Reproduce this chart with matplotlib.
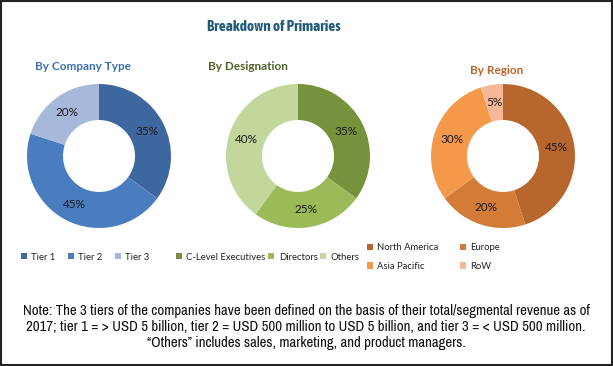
import matplotlib
matplotlib.use("Agg")
import matplotlib.pyplot as plt
from matplotlib.patches import Rectangle

# data
company_labels = ["Tier 1", "Tier 2", "Tier 3"]
company_values = [35, 45, 20]
company_colors = ["#3E679F", "#4A7DC0", "#A6B9DA"]

designation_labels = ["C-Level Executives", "Directors", "Others"]
designation_values = [35, 25, 40]
designation_colors = ["#76923C", "#9BBB59", "#C3D69B"]

region_labels = ["North America", "Europe", "Asia Pacific", "RoW"]
region_values = [45, 20, 30, 5]
region_colors = ["#B7672D", "#D37C38", "#F4994A", "#F6B797"]

W, H = 613, 366
fig = plt.figure(figsize=(W / 100, H / 100), dpi=100)
fig.patch.set_facecolor("white")

narrow = ["Archivo Narrow", "DejaVu Sans"]
title_font = ["Asap Condensed", "DejaVu Sans"]
body = ["Lato", "DejaVu Sans"]


def donut(cx, cy, r, values, colors):
    ax = fig.add_axes([(cx - r) / W, (H - cy - r) / H, 2 * r / W, 2 * r / H])
    wedges, texts = ax.pie(values, colors=colors, startangle=90, counterclock=False,
                           radius=1, wedgeprops=dict(width=0.5, edgecolor="none"),
                           labels=[f"{v}%" for v in values], labeldistance=0.75,
                           textprops=dict(fontsize=8.5, family=body, color="#1a1a1a",
                                          ha="center", va="center"))
    ax.set_xlim(-1, 1)
    ax.set_ylim(-1, 1)
    ax.set_aspect("equal")
    ax.axis("off")
    return wedges


w1 = donut(99, 156, 72, company_values, company_colors)
w2 = donut(298, 156, 72, designation_values, designation_colors)
w3 = donut(503, 156, 72, region_values, region_colors)

fig.text(274 / W, 1 - 27 / H, "Breakdown of Primaries", ha="center", va="center",
         fontsize=11, fontweight="bold", family=title_font, color="#1F5A78")
fig.text(83 / W, 1 - 67 / H, "By Company Type", ha="center", va="center",
         fontsize=8.5, fontweight="bold", family=body, color="#3E6FAE")
fig.text(248 / W, 1 - 67 / H, "By Designation", ha="center", va="center",
         fontsize=8.5, fontweight="bold", family=body, color="#4F6228")
fig.text(497 / W, 1 - 70 / H, "By Region", ha="center", va="center",
         fontsize=8.5, fontweight="bold", family=body, color="#C0622A")

leg_kw = dict(frameon=False, handlelength=0.65, handleheight=0.65, handletextpad=0.45,
              prop=dict(family=body, size=6.8), labelcolor="#222222", borderaxespad=0)
fig.legend(w1, company_labels, ncol=3, loc="center left", columnspacing=1.3,
           bbox_to_anchor=(17 / W, 1 - 257 / H), **leg_kw)
fig.legend(w2, designation_labels, ncol=3, loc="center left", columnspacing=0.3,
           bbox_to_anchor=(172 / W, 1 - 257 / H), **leg_kw)
# column-major fill: NA, Asia Pacific | Europe, RoW
order = [0, 2, 1, 3]
fig.legend([w3[i] for i in order], [region_labels[i] for i in order], ncol=2,
           loc="center left", columnspacing=2.3, labelspacing=1.05,
           bbox_to_anchor=(363 / W, 1 - 257 / H), **leg_kw)

note = ("Note: The 3 tiers of the companies have been defined on the basis of their total/segmental revenue as of\n"
        "2017; tier 1 = > USD 5 billion, tier 2 = USD 500 million to USD 5 billion, and tier 3 = < USD 500 million.\n"
        "\u201cOthers\u201d includes sales, marketing, and product managers.")
fig.text(306 / W, 1 - 327 / H, note, ha="center", va="center",
         fontsize=10.7, family=narrow, color="#111111", linespacing=1.17)

fig.add_artist(Rectangle((0.002, 0.003), 0.996, 0.994, transform=fig.transFigure,
                         fill=False, edgecolor="#222222", linewidth=1.5))

fig.savefig("out.png", dpi=100)
